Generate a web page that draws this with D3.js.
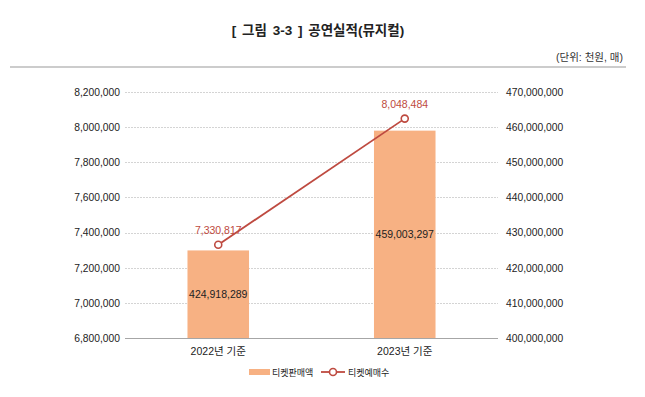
<!DOCTYPE html>
<html>
<head>
<meta charset="utf-8">
<script src="https://cdn.jsdelivr.net/npm/d3@7"></script>
<style>
    body { margin: 0; background: #fff; }
    svg text { font-family: "Liberation Sans", "Noto Sans CJK KR", sans-serif; }
</style>
</head>
<body>
<script>
// 데이터
const years = ["2022년 기준", "2023년 기준"];
const salesValues = [424918289, 459003297];     // 티켓판매액 (천원)
const ticketValues = [7330817, 8048484];         // 티켓예매수 (매)
const leftTicks = [6800000, 7000000, 7200000, 7400000, 7600000, 7800000, 8000000, 8200000];
const rightTicks = [400000000, 410000000, 420000000, 430000000, 440000000, 450000000, 460000000, 470000000];
const seriesNames = ["티켓판매액", "티켓예매수"];

const barColor = '#F7B183',
    lineColor = '#BE4A40';

const svg = d3.select("body")
    .append("svg")
    .attr("width", 645)
    .attr("height", 397);

// 제목
svg.append("text")
    .attr("x", 318)
    .attr("y", 35)
    .attr("text-anchor", "middle")
    .style("font-size", "13.5px")
    .style("font-weight", "bold")
    .style("word-spacing", "2px")
    .style("fill", "#222")
    .text("[ 그림 3-3 ] 공연실적(뮤지컬)");

svg.append("line")
    .attr("x1", 10).attr("x2", 626)
    .attr("y1", 67).attr("y2", 67)
    .style("stroke", "#999")
    .style("stroke-width", 1);

svg.append("text")
    .attr("x", 623)
    .attr("y", 61)
    .attr("text-anchor", "end")
    .style("font-size", "10.5px")
    .style("fill", "#333")
    .text("(단위: 천원, 매)");

const plotLeft = 125, plotRight = 498, plotTop = 92, plotBottom = 338;

const x = d3.scaleBand()
    .domain(years)
    .range([plotLeft, plotRight])
    .paddingInner(0.67)
    .paddingOuter(0.335);

const yLeft = d3.scaleLinear()
    .domain([6800000, 8200000])
    .range([plotBottom, plotTop]);

const yRight = d3.scaleLinear()
    .domain([400000000, 470000000])
    .range([plotBottom, plotTop]);

// 격자선
svg.append("g")
    .selectAll("line")
    .data(leftTicks.slice(1))
    .join("line")
    .attr("x1", plotLeft).attr("x2", plotRight)
    .attr("y1", d => Math.round(yLeft(d)) + 0.5)
    .attr("y2", d => Math.round(yLeft(d)) + 0.5)
    .style("stroke", "#d4d4d4")
    .style("stroke-dasharray", "2,1");

// 왼쪽 축
const leftAxis = svg.append("g")
    .attr("transform", `translate(${plotLeft},0)`)
    .call(d3.axisLeft(yLeft).tickValues(leftTicks).tickSize(0).tickPadding(5).tickFormat(d3.format(",")));
leftAxis.select(".domain").remove();
leftAxis.attr("font-family", null);
leftAxis.selectAll("text").style("font-size", "10.3px").style("fill", "#222");

// 오른쪽 축
const rightAxis = svg.append("g")
    .attr("transform", `translate(${plotRight},0)`)
    .call(d3.axisRight(yRight).tickValues(rightTicks).tickSize(0).tickPadding(8).tickFormat(d3.format(",")));
rightAxis.select(".domain").remove();
rightAxis.attr("font-family", null);
rightAxis.selectAll("text").style("font-size", "10.3px").style("fill", "#222");

// 막대
const data = years.map((y, i) => ({ year: y, sales: salesValues[i], tickets: ticketValues[i] }));

svg.append("g")
    .selectAll("rect")
    .data(data)
    .join("rect")
    .attr("x", d => x(d.year))
    .attr("y", d => yRight(d.sales))
    .attr("width", x.bandwidth())
    .attr("height", d => plotBottom - yRight(d.sales))
    .style("fill", barColor);

svg.append("g")
    .selectAll("text")
    .data(data)
    .join("text")
    .attr("x", d => x(d.year) + x.bandwidth() / 2)
    .attr("y", d => (yRight(d.sales) + plotBottom) / 2 + 4)
    .attr("text-anchor", "middle")
    .style("font-size", "10.5px")
    .style("fill", "#222")
    .text(d => d3.format(",")(d.sales));

// 기준선
svg.append("line")
    .attr("x1", plotLeft).attr("x2", plotRight)
    .attr("y1", plotBottom + 0.5).attr("y2", plotBottom + 0.5)
    .style("stroke", "#a6a6a6");

// x 축 라벨
svg.append("g")
    .selectAll("text")
    .data(years)
    .join("text")
    .attr("x", d => x(d) + x.bandwidth() / 2)
    .attr("y", plotBottom + 17)
    .attr("text-anchor", "middle")
    .style("font-size", "10.5px")
    .style("fill", "#222")
    .text(d => d);

// 선
const line = d3.line()
    .x(d => x(d.year) + x.bandwidth() / 2)
    .y(d => yLeft(d.tickets));

svg.append("path")
    .datum(data)
    .attr("d", line)
    .style("fill", "none")
    .style("stroke", lineColor)
    .style("stroke-width", 1.8);

svg.append("g")
    .selectAll("circle")
    .data(data)
    .join("circle")
    .attr("cx", d => x(d.year) + x.bandwidth() / 2)
    .attr("cy", d => yLeft(d.tickets))
    .attr("r", 3.5)
    .style("fill", "#fff")
    .style("stroke", lineColor)
    .style("stroke-width", 1.6);

svg.append("g")
    .selectAll("text")
    .data(data)
    .join("text")
    .attr("x", d => x(d.year) + x.bandwidth() / 2)
    .attr("y", d => yLeft(d.tickets) - 11)
    .attr("text-anchor", "middle")
    .style("font-size", "10.5px")
    .style("fill", lineColor)
    .text(d => d3.format(",")(d.tickets));

// 범례
const legend = svg.append("g").attr("transform", "translate(0,372)");
legend.append("rect")
    .attr("x", 249).attr("y", -3)
    .attr("width", 21).attr("height", 6)
    .style("fill", barColor);
legend.append("text")
    .attr("x", 272).attr("y", 3.5)
    .style("font-size", "9px")
    .style("fill", "#222")
    .text(seriesNames[0]);
legend.append("line")
    .attr("x1", 321).attr("x2", 345)
    .attr("y1", 0).attr("y2", 0)
    .style("stroke", lineColor)
    .style("stroke-width", 1.8);
legend.append("circle")
    .attr("cx", 333).attr("cy", 0).attr("r", 3.5)
    .style("fill", "#fff")
    .style("stroke", lineColor)
    .style("stroke-width", 1.6);
legend.append("text")
    .attr("x", 348).attr("y", 3.5)
    .style("font-size", "9px")
    .style("fill", "#222")
    .text(seriesNames[1]);
</script>
</body>
</html>
